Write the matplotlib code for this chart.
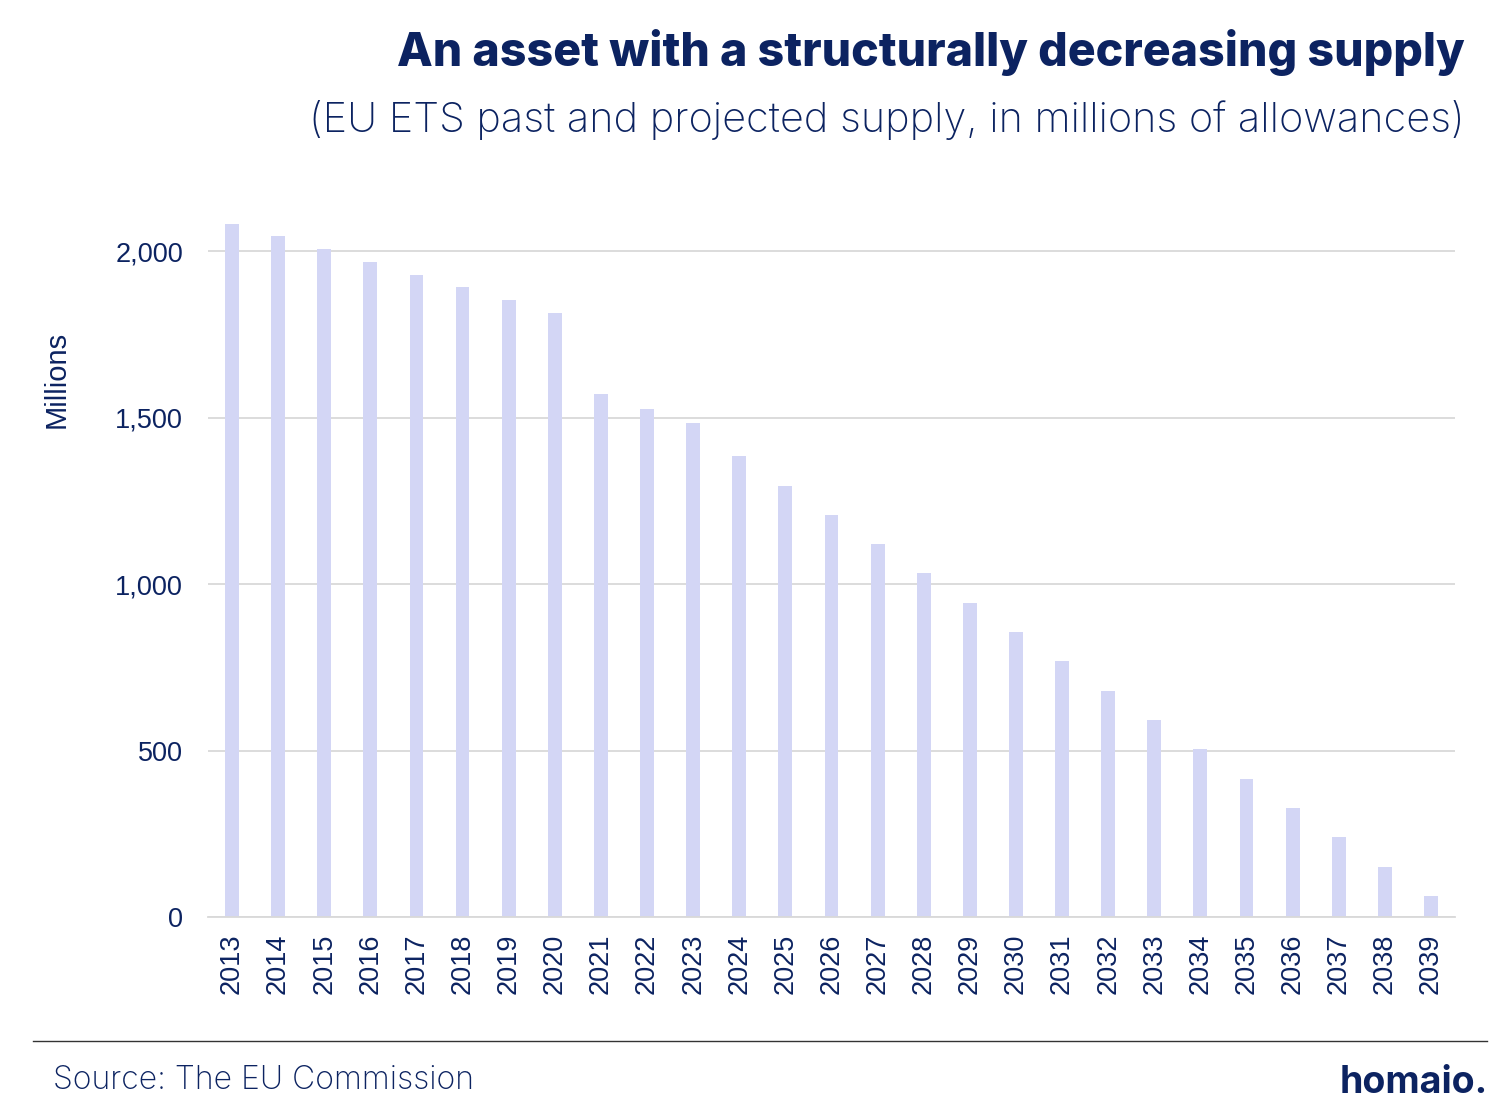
import matplotlib.pyplot as plt
import numpy as np

years = [str(y) for y in range(2013, 2040)]
supply = [2081, 2045, 2006, 1967, 1928, 1892, 1853, 1814, 1571, 1526, 1483, 1384,
          1294, 1207, 1120, 1033, 943, 856, 769, 679, 592, 505, 414, 327, 240, 150, 63]
yticks = [0, 500, 1000, 1500, 2000]
ytick_labels = ['0', '500', '1,000', '1,500', '2,000']

navy = '#0c2361'
bar_col = '#d3d6f5'
grid_col = '#d9d9d9'

fig = plt.figure(figsize=(15.04, 11.13), dpi=100)
ax = fig.add_axes([0.1383, 0.1761, 0.8291, 0.6283])

x = np.arange(len(years))
ax.bar(x, supply, width=0.3, color=bar_col, zorder=2)
ax.set_xlim(-0.52, len(years) - 0.48)
ax.set_ylim(0, 2100)
ax.set_yticks(yticks)
ax.set_yticklabels(ytick_labels, fontsize=19.5, color=navy, family='Liberation Sans')
ax.set_xticks(x)
ax.set_xticklabels(years, rotation=90, fontsize=19.5, color=navy, family='Liberation Sans')
ax.tick_params(length=0, pad=12)
ax.tick_params(axis='y', pad=18)
ax.grid(axis='y', color=grid_col, linewidth=1.3, zorder=0)
for s in ['top', 'right', 'left']:
    ax.spines[s].set_visible(False)
ax.spines['bottom'].set_color(grid_col)
ax.spines['bottom'].set_linewidth(1.3)
ax.set_ylabel('Millions', fontsize=21, color=navy, family='Liberation Sans')
ax.yaxis.set_label_coords(-0.11, 0.769)

fig.text(0.974, 0.953, 'An asset with a structurally decreasing supply', ha='right', va='center',
         fontsize=33.5, fontweight='heavy', color=navy, family='Inter')
fig.text(0.974, 0.892, '(EU ETS past and projected supply, in millions of allowances)', ha='right',
         va='center', fontsize=29.8, fontweight='light', color=navy, family='Inter')

fig.add_artist(plt.Line2D([0.022, 0.989], [0.0647, 0.0647], color='#333333', linewidth=1))
fig.text(0.035, 0.029, 'Source: The EU Commission', ha='left', va='center', fontsize=23,
         fontweight='light', color=navy, family='Inter')
fig.text(0.989, 0.027, 'homaio.', ha='right', va='center', fontsize=27, fontweight='bold',
         color=navy, family='Inter')

fig.savefig('out.png', dpi=100)
